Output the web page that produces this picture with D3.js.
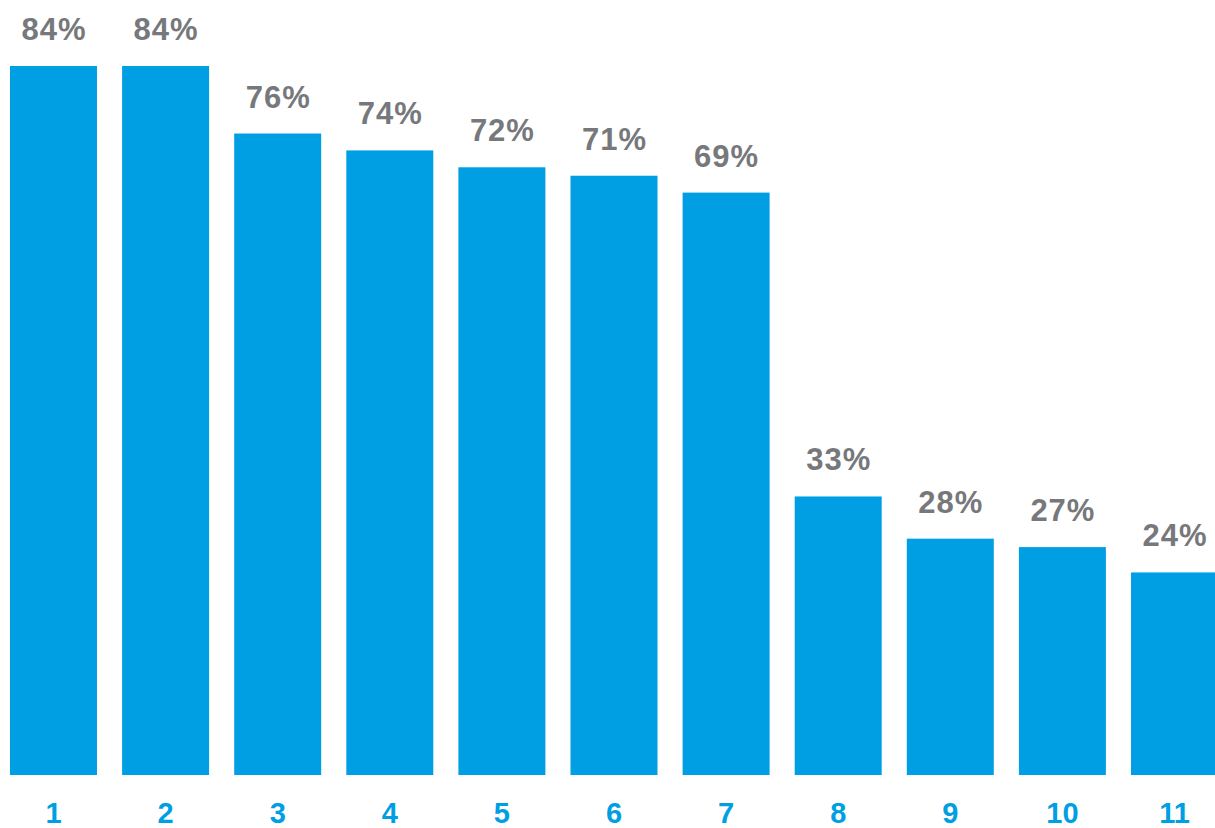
<!DOCTYPE html>
<html>
<head>
<meta charset="utf-8">
<script src="https://cdn.jsdelivr.net/npm/d3@7"></script>
<style>
  html, body { margin: 0; padding: 0; background: #fff; overflow: hidden; }
  svg { display: block; }
</style>
</head>
<body>
<div id="chart"></div>
<script>
var categories = ["1", "2", "3", "4", "5", "6", "7", "8", "9", "10", "11"];
var values = [84, 84, 76, 74, 72, 71, 69, 33, 28, 27, 24];

var w = 1215,
    h = 828;
var blue = "#009fe3",
    grey = "#77787b";

var svg = d3.select("#chart")
    .append("svg")
    .attr("width", w)
    .attr("height", h);

// last bar runs slightly past the right edge, like the original
var x = d3.scaleBand()
    .domain(categories)
    .range([10, 1218])
    .paddingInner(0.224)
    .paddingOuter(0);

var y = d3.scaleLinear()
    .domain([0, 84])
    .range([775, 66]);

var data = categories.map(function(c, i) { return {cat: c, val: values[i]}; });

svg.selectAll("rect.bar")
    .data(data)
    .enter()
    .append("rect")
    .attr("class", "bar")
    .attr("x", function(d) { return x(d.cat); })
    .attr("y", function(d) { return y(d.val); })
    .attr("width", x.bandwidth())
    .attr("height", function(d) { return y(0) - y(d.val); })
    .attr("fill", blue);

// value labels above bars
svg.selectAll("text.val")
    .data(data)
    .enter()
    .append("text")
    .attr("class", "val")
    .attr("x", function(d) { return x(d.cat) + x.bandwidth() / 2 + 0.5; })
    .attr("y", function(d) { return y(d.val) - 26; })
    .attr("text-anchor", "middle")
    .style("font-family", "'Liberation Sans', Arial, sans-serif")
    .style("font-weight", "bold")
    .style("font-size", "31px")
    .style("letter-spacing", "1px")
    .style("fill", grey)
    .text(function(d) { return d.val + "%"; });

// category axis (no line, no ticks)
var xAxis = d3.axisBottom(x).tickSize(0).tickPadding(0);
var gx = svg.append("g")
    .attr("transform", "translate(0,823)")
    .call(xAxis);
gx.select(".domain").remove();
gx.selectAll("text")
    .attr("dy", 0)
    .style("font-family", "'Liberation Sans', Arial, sans-serif")
    .style("font-weight", "bold")
    .style("font-size", "29px")
    .style("fill", blue);
</script>
</body>
</html>
